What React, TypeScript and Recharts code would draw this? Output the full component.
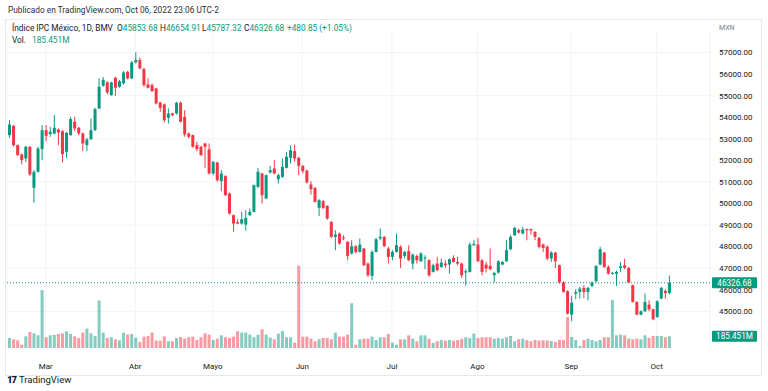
import React from 'react';
import { ComposedChart, Bar, XAxis, YAxis, CartesianGrid, ReferenceLine, Cell } from 'recharts';

const dates = [
  '2022-02-16','2022-02-17','2022-02-18','2022-02-21','2022-02-22','2022-02-23','2022-02-24','2022-02-25','2022-02-28',
  '2022-03-01','2022-03-02','2022-03-03','2022-03-04','2022-03-07','2022-03-08','2022-03-09','2022-03-10','2022-03-11','2022-03-14','2022-03-15','2022-03-16','2022-03-17','2022-03-18','2022-03-22','2022-03-23','2022-03-24','2022-03-25','2022-03-28','2022-03-29','2022-03-30','2022-03-31',
  '2022-04-01','2022-04-04','2022-04-05','2022-04-06','2022-04-07','2022-04-08','2022-04-11','2022-04-12','2022-04-13','2022-04-18','2022-04-19','2022-04-20','2022-04-21','2022-04-22','2022-04-25','2022-04-26','2022-04-27','2022-04-28','2022-04-29',
  '2022-05-02','2022-05-03','2022-05-04','2022-05-05','2022-05-06','2022-05-09','2022-05-10','2022-05-11','2022-05-12','2022-05-13','2022-05-16','2022-05-17','2022-05-18','2022-05-19','2022-05-20','2022-05-23','2022-05-24','2022-05-25','2022-05-26','2022-05-27','2022-05-30','2022-05-31',
  '2022-06-01','2022-06-02','2022-06-03','2022-06-06','2022-06-07','2022-06-08','2022-06-09','2022-06-10','2022-06-13','2022-06-14','2022-06-15','2022-06-16','2022-06-17','2022-06-20','2022-06-21','2022-06-22','2022-06-23','2022-06-24','2022-06-27','2022-06-28','2022-06-29','2022-06-30',
  '2022-07-01','2022-07-04','2022-07-05','2022-07-06','2022-07-07','2022-07-08','2022-07-11','2022-07-12','2022-07-13','2022-07-14','2022-07-15','2022-07-18','2022-07-19','2022-07-20','2022-07-21','2022-07-22','2022-07-25','2022-07-26','2022-07-27','2022-07-28','2022-07-29',
  '2022-08-01','2022-08-02','2022-08-03','2022-08-04','2022-08-05','2022-08-08','2022-08-09','2022-08-10','2022-08-11','2022-08-12','2022-08-15','2022-08-16','2022-08-17','2022-08-18','2022-08-19','2022-08-22','2022-08-23','2022-08-24','2022-08-25','2022-08-26','2022-08-29','2022-08-30','2022-08-31',
  '2022-09-01','2022-09-02','2022-09-05','2022-09-06','2022-09-07','2022-09-08','2022-09-09','2022-09-12','2022-09-13','2022-09-14','2022-09-15','2022-09-19','2022-09-20','2022-09-21','2022-09-22','2022-09-23','2022-09-26','2022-09-27','2022-09-28','2022-09-29','2022-09-30',
  '2022-10-03','2022-10-04','2022-10-05','2022-10-06',
];

const opens = [
  53171,53604,52707,52274,52088,52630,50727,51469,52521,
  53403,53218,53249,53434,53357,52398,53171,53790,53512,53249,52707,52985,53403,54409,55461,55615,55028,55832,55414,55569,56110,55801,
  56544,56652,56234,55523,55492,55337,54687,54594,53976,54177,54177,54672,54022,53249,53171,52707,52630,52784,52506,
  51392,51903,51036,51268,50464,49458,49133,49071,49025,49458,49613,50773,51392,50232,51439,51624,51129,51237,51655,52119,52429,52119,
  51748,51531,50882,50727,49799,50108,49891,49149,48453,48607,48422,48221,47679,48020,47757,47911,47215,46643,47757,48376,48453,47911,
  47525,47757,47989,47571,47788,47215,47571,47324,47460,47370,46829,47215,47060,47215,47169,47478,47292,47215,46798,46829,48066,
  48097,47370,47169,47107,46674,46798,47169,47324,47880,48530,48762,48607,48809,48809,48685,48406,48097,47989,47447,47726,47138,46334,45931,
  44848,45823,45900,46086,45900,46179,46396,47169,47726,47060,46751,46736,47014,47138,47014,46210,45436,44848,45003,45313,45096,
  44740,45591,45947,45853.68,
];
const highs = [
  53867,53635,52740,52320,52676,52660,51547,52630,53635,
  53635,53558,54099,53480,53403,53326,54022,54022,53558,53295,53047,53945,54440,55801,55863,55677,55646,55878,55724,56141,56141,56605,
  57008,56760,56296,55801,55569,55368,54718,54641,54409,54208,54718,54718,54331,53295,53202,52862,52676,52815,52784,
  51964,51933,51547,51315,50510,49489,49273,49613,49690,49768,50881,51655,51423,51346,51748,52011,51392,52088,52398,52707,52738,52165,
  51779,51562,51036,50773,50201,50155,49922,49180,48762,48654,48530,48252,48298,48066,48375,47942,47261,47834,48406,48840,48499,47989,
  47834,48607,48066,47787,48066,47679,47633,47757,47602,47416,47215,47525,47447,47370,47447,47602,47525,47261,46952,48190,48298,
  48406,47416,47292,47911,46829,47370,47324,48298,48530,48917,48840,48917,48840,48840,48716,48453,48143,48066,47788,47757,47169,46396,45978,
  45715,46024,46133,46210,46133,46396,47138,47989,47757,47138,46829,46891,47293,47447,47060,46241,45467,45049,45823,45514,45127,
  45514,46133,46024,46654.91,
];
const lows = [
  53047,52630,52212,51810,51933,51284,50031,51440,52011,
  52893,53094,53202,52707,51903,52119,53140,53357,53171,52429,52429,52939,53357,54378,55414,55058,54997,54997,55368,55523,55755,55770,
  56497,56234,55414,55337,55182,54594,54254,53759,53713,54053,54130,53759,53094,53016,52584,52429,52212,51655,51346,
  51315,51005,50572,50356,49489,48685,49040,49024,48747,49427,49582,50727,50000,50201,51392,51346,50928,51191,51624,51856,51933,51315,
  51392,50928,50417,50046,49427,49737,49242,48406,47834,48097,48298,47370,47633,47679,47726,47107,46597,46442,47726,48298,47989,47215,
  47370,47726,47014,47447,47324,46952,47215,47292,46952,46597,46798,46860,47014,47014,46751,47261,47138,46550,46210,46798,48040,
  47292,46674,46798,46906,46334,46751,47138,47292,47834,48499,48607,48577,48298,48561,48298,47911,47757,47370,47292,47014,46287,45869,44848,
  44539,45560,45591,45622,45514,46117,46334,47138,47014,46705,46705,46179,46829,46952,46303,45405,44817,44817,44972,45003,44586,
  44694,45560,45591,45787.32,
];
const closes = [
  53666,52707,52243,52011,52630,51346,51469,52552,53403,
  53140,53326,53512,53295,52289,53279,53914,53480,53249,52784,52970,53403,54378,55414,55739,55151,55615,55368,55677,56079,55801,56544,
  56652,56265,55492,55368,55213,54641,54440,53867,54177,54099,54672,53790,53202,53094,52630,52521,52243,52630,51392,
  51933,51083,51392,50386,49536,49071,49071,49273,49334,49613,50851,51469,50386,51315,51547,51392,51315,51702,52165,52475,52088,51748,
  51500,50974,50665,50077,50155,49799,49304,48453,48562,48143,48376,47571,48020,47757,48097,47138,46674,47757,48345,48453,48020,47525,
  47757,48066,47447,47757,47370,47633,47370,47679,47495,46674,47138,46906,47261,47138,47416,47292,47215,46674,46860,48097,48128,
  47324,46829,46984,46952,46783,47324,47292,47834,48453,48870,48654,48793,48762,48747,48453,47989,47942,47447,47726,47324,46334,45900,44895,
  45405,45900,46055,45900,46086,46334,47107,47881,47060,46751,46783,46829,47091,47014,46334,45436,44848,45003,45436,45096,44632,
  45467,46086,45845.83,46326.68,
];
// volume in millions
const volumes = [
  159,138,122,53,185,254,233,201,917,
  170,201,207,223,233,265,223,185,159,244,307,233,191,753,244,159,170,138,122,244,212,223,
  164,95,180,191,244,117,117,185,106,106,159,175,148,170,180,127,170,233,212,
  127,148,201,170,159,180,265,244,244,212,170,212,297,212,164,138,228,270,170,170,85,1304,
  180,180,148,106,138,159,159,138,244,180,180,212,710,53,138,148,148,180,127,170,170,223,
  85,53,138,138,201,148,106,201,201,148,80,106,127,117,127,117,127,148,170,159,228,
  159,170,170,170,148,159,148,170,191,106,138,148,127,106,127,117,122,122,111,95,127,127,493,
  175,127,32,127,148,127,106,127,170,170,758,201,212,201,148,138,148,138,201,159,191,
  191,191,170,185.451,
];

const monthTicks = ['2022-03-01','2022-04-01','2022-05-02','2022-06-01','2022-07-01','2022-08-01','2022-09-01','2022-10-03'];
const monthLabels = ['Mar','Abr','Mayo','Jun','Jul','Ago','Sep','Oct'];
const priceTicks = [44000,45000,46000,47000,48000,49000,50000,51000,52000,53000,54000,55000,56000,57000];
const lastClose = 46326.68;
const lastVolume = 185.451;

const UP = '#089981';
const DOWN = '#f23645';
const VOL_UP = 'rgba(8,153,129,0.5)';
const VOL_DOWN = 'rgba(242,54,69,0.5)';
const FONT = 'Roboto, "Noto Sans", sans-serif';
const TEXT = '#131722';

const data = dates.map((date, i) => ({
  date,
  open: opens[i],
  high: highs[i],
  low: lows[i],
  close: closes[i],
  range: [lows[i], highs[i]],
  volume: volumes[i],
}));

const Candle = (props: any) => {
  const { x, y, width, height, payload } = props;
  if (payload == null || x == null) return null;
  const top = Math.min(y, y + height);
  const h = Math.abs(height);
  const { open, close, high, low } = payload;
  const ratio = h / (high - low || 1);
  const yO = top + (high - open) * ratio;
  const yC = top + (high - close) * ratio;
  const color = close >= open ? UP : DOWN;
  const cx = x + width / 2;
  const bodyTop = Math.min(yO, yC);
  const bodyH = Math.max(Math.abs(yC - yO), 1);
  return (
    <g>
      <line x1={cx} x2={cx} y1={top} y2={top + h} stroke={color} strokeWidth={1} />
      <rect x={x} y={bodyTop} width={width} height={bodyH} fill={color} />
    </g>
  );
};

const PLOT_RIGHT = 710;

// Tag drawn as the tick of an extra right-hand axis, so it sits above the price labels
const TagTick = (props: any) => {
  const { y, payload, text } = props;
  if (payload == null || y == null) return null;
  const x = PLOT_RIGHT + 2;
  return (
    <g>
      <rect x={x} y={y - 5.5} width={45} height={11} fill={UP} rx={1} />
      <text x={x + 22.5} y={y} dy="0.36em" textAnchor="middle" fill="#ffffff" fontSize={8.2} fontFamily={FONT}>
        {text}
      </text>
    </g>
  );
};

const abs = (left: number, top: number, extra: any = {}): any => ({
  position: 'absolute', left, top, whiteSpace: 'nowrap', fontFamily: FONT, fontSize: 8.3, lineHeight: '10px', color: TEXT, ...extra,
});

export default function App() {
  return (
    <div style={{ position: 'absolute', left: 0, top: 0, width: 768, height: 391, background: '#ffffff', overflow: 'hidden' }}>
      <div style={{ position: 'absolute', left: 5, top: 19, width: 757, height: 357, border: '1px solid #e6e8ee', boxSizing: 'border-box' }} />
      <div style={{ position: 'absolute', left: 0, top: 0 }}>
        <ComposedChart width={768} height={391} data={data} margin={{ top: 31, right: 0, bottom: 0, left: 7 }}>
          <CartesianGrid xAxisId="price" yAxisId="price" stroke="#f0f3fa" horizontalValues={priceTicks} />
          <XAxis
            xAxisId="price"
            dataKey="date"
            ticks={monthTicks}
            interval={0}
            padding={{ left: 0, right: 39 }}
            height={43}
            axisLine={false}
            tickLine={false}
            tickSize={0}
            tickMargin={15}
            tick={{ fontSize: 8, fill: TEXT, fontFamily: FONT }}
            tickFormatter={(v: string) => monthLabels[monthTicks.indexOf(v)] ?? ''}
          />
          <XAxis xAxisId="vol" dataKey="date" hide padding={{ left: 0, right: 39 }} />
          <YAxis
            yAxisId="price"
            orientation="right"
            domain={[43300, 58000]}
            ticks={priceTicks}
            width={56}
            axisLine={false}
            tickLine={false}
            tickSize={0}
            tickMargin={9}
            tick={{ fontSize: 8, fill: TEXT, fontFamily: FONT, textAnchor: 'start' }}
            tickFormatter={(v: number) => v.toFixed(2)}
            allowDataOverflow
          />
          <YAxis
            yAxisId="priceTag"
            orientation="right"
            domain={[43300, 58000]}
            ticks={[lastClose]}
            width={1}
            interval={0}
            axisLine={false}
            tickLine={false}
            tick={<TagTick text={lastClose.toFixed(2)} />}
            allowDataOverflow
          />
          <YAxis
            yAxisId="vol"
            orientation="right"
            domain={[0, 5020]}
            ticks={[lastVolume]}
            width={1}
            interval={0}
            axisLine={false}
            tickLine={false}
            tick={<TagTick text={lastVolume.toFixed(3) + 'M'} />}
            allowDataOverflow
          />
          <Bar xAxisId="vol" yAxisId="vol" dataKey="volume" barSize={3} isAnimationActive={false}>
            {data.map((d, i) => (
              <Cell key={i} fill={d.close >= d.open ? VOL_UP : VOL_DOWN} />
            ))}
          </Bar>
          <Bar xAxisId="price" yAxisId="price" dataKey="range" barSize={3} shape={<Candle />} isAnimationActive={false} />
          <ReferenceLine
            xAxisId="price"
            yAxisId="price"
            y={lastClose}
            stroke={UP}
            strokeDasharray="1 2"
          />
        </ComposedChart>
      </div>
      <div style={abs(8, 5, { color: '#2a2e39' })}>Publicado en TradingView.com, Oct 06, 2022 23:06 UTC-2</div>
      <div style={abs(12, 23)}>Índice IPC México, 1D, BMV</div>
      <div style={abs(117, 23)}>O<span style={{ color: UP }}>45853.68</span></div>
      <div style={abs(160, 23)}>H<span style={{ color: UP }}>46654.91</span></div>
      <div style={abs(202, 23)}>L<span style={{ color: UP }}>45787.32</span></div>
      <div style={abs(244, 23)}>C<span style={{ color: UP }}>46326.68</span></div>
      <div style={abs(287, 23, { color: UP })}>+480.85 (+1.05%)</div>
      <div style={abs(12, 35)}>Vol.</div>
      <div style={abs(32, 35, { color: UP })}>185.451M</div>
      <div style={abs(719, 23, { color: '#787b86', fontSize: 7 })}>MXN</div>
      <div style={abs(7, 375, { fontSize: 9.5 })}>
        <span style={{ fontWeight: 900, letterSpacing: -1, marginRight: 3 }}>17</span>TradingView
      </div>
    </div>
  );
}
